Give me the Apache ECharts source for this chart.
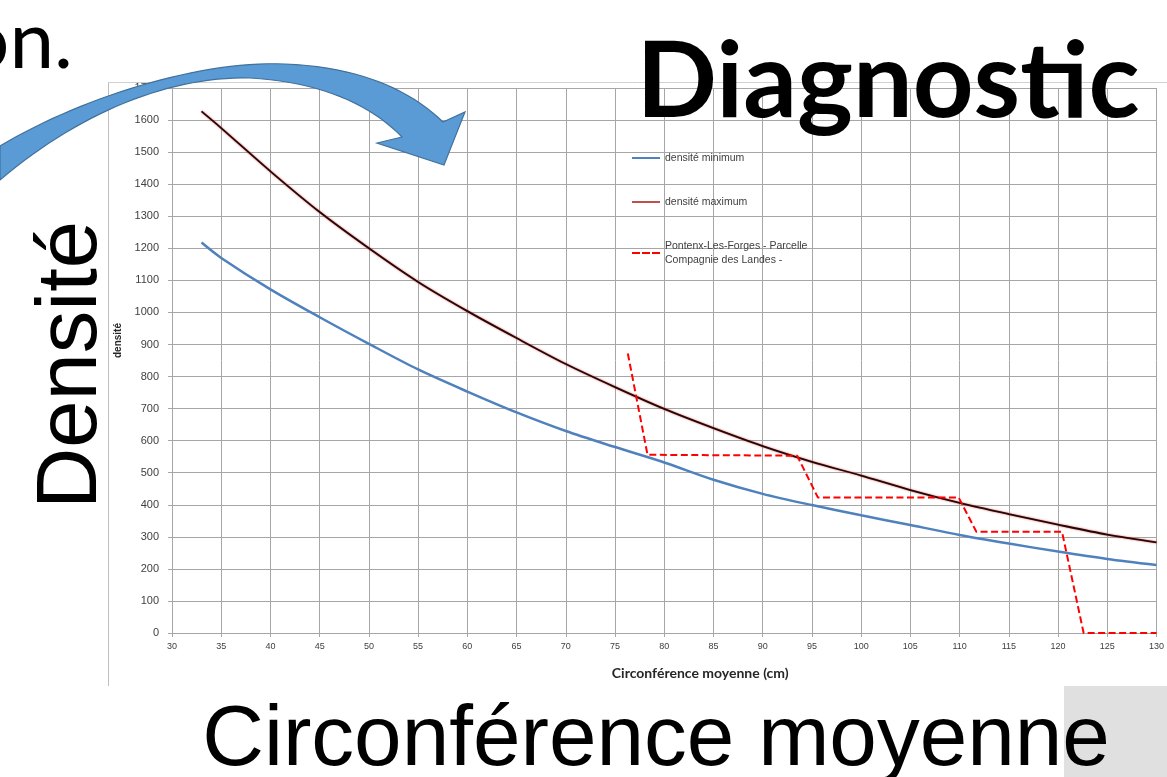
<!DOCTYPE html>
<html>
<head>
<meta charset="utf-8">
<script src="https://cdn.jsdelivr.net/npm/echarts@6/dist/echarts.min.js"></script>
<style>
html,body{margin:0;padding:0;background:#fff;}
#chart{width:1167px;height:777px;}
</style>
</head>
<body>
<div id="chart"></div>
<script>
// ---- data ----
const xTicks = [30, 130, 5];           // min, max, interval for circumference axis
const yTicks = [0, 1700, 100];         // min, max, interval for density axis
const circMin = [33, 35, 40, 45, 50, 55, 60, 65, 70, 75, 80, 85, 90, 95, 100, 105, 110, 115, 120, 125, 130];
const densMin = [1218, 1170, 1072, 985, 902, 822, 753, 688, 630, 580, 532, 478, 434, 399, 367, 337, 306, 279, 254, 231, 212];
const circMax = [33, 35, 40, 45, 50, 55, 60, 65, 70, 75, 80, 85, 90, 95, 100, 105, 110, 115, 120, 125, 130];
const densMax = [1627, 1575, 1440, 1313, 1200, 1095, 1004, 920, 839, 767, 699, 639, 583, 534, 491, 446, 406, 371, 338, 307, 283];
const circParcelle = [76.3, 78.3, 93.5, 95.6, 109.9, 111.7, 120.4, 122.6, 130];
const densParcelle = [872, 556, 553, 423, 423, 316, 316, 0, 0];
const seriesNames = ['densité minimum', 'densité maximum', 'Pontenx-Les-Forges - Parcelle\nCompagnie des Landes -'];
const xAxisName = 'Circonférence moyenne (cm)';
const yAxisName = 'densité';
const slideTexts = { title: 'Diagnostic', prev: 'on.', left: 'Densité', bottom: 'Circonférence moyenne' };

const zip = (xs, ys) => xs.map((x, i) => [x, ys[i]]);

// decorative curved arrow outline (slide shape), sampled from cubic curves
function cubic(p0, p1, p2, p3, n) {
  const pts = [];
  for (let i = 0; i <= n; i++) {
    const t = i / n, u = 1 - t;
    pts.push([
      u*u*u*p0[0] + 3*u*u*t*p1[0] + 3*u*t*t*p2[0] + t*t*t*p3[0],
      u*u*u*p0[1] + 3*u*u*t*p1[1] + 3*u*t*t*p2[1] + t*t*t*p3[1]
    ]);
  }
  return pts;
}
const arrowPts = [].concat(
  cubic([0,146],[80,98],[200,60],[285,64],30),
  cubic([285,64],[360,67],[410,90],[443,122],20),
  [[465,112],[444,165],[377,143],[402,137]],
  cubic([402,137],[370,104],[320,82],[250,78],20),
  cubic([250,78],[170,76],[80,112],[0,180],30)
);

const chart = echarts.init(document.getElementById('chart'));
const gridColor = '#a6a6a6';
chart.setOption({
  backgroundColor: '#ffffff',
  animation: false,
  grid: { left: 172, right: 9, top: 88, bottom: 144, containLabel: false },
  xAxis: {
    type: 'value', min: xTicks[0], max: xTicks[1], interval: xTicks[2],
    name: xAxisName, nameLocation: 'middle', nameGap: 33,
    nameTextStyle: { fontFamily: 'Lato', fontWeight: 'bold', fontSize: 14, color: '#262626', padding: [0, 0, 0, 72] },
    axisLine: { show: true, lineStyle: { color: gridColor, width: 1 } },
    axisTick: { show: true, length: 4, lineStyle: { color: gridColor } },
    axisLabel: { fontFamily: 'Liberation Sans', fontSize: 9, color: '#404040', margin: 9 },
    splitLine: { show: true, lineStyle: { color: gridColor, width: 1 } }
  },
  yAxis: {
    type: 'value', min: yTicks[0], max: yTicks[1], interval: yTicks[2],
    name: yAxisName, nameLocation: 'middle', nameGap: 42, nameRotate: 90,
    nameTextStyle: { fontFamily: 'Liberation Sans', fontWeight: 'bold', fontSize: 10, color: '#262626', padding: [0, 0, 0, 40] },
    axisLine: { show: true, lineStyle: { color: gridColor, width: 1 } },
    axisTick: { show: true, inside: false, length: 4, lineStyle: { color: gridColor } },
    axisLabel: { fontFamily: 'Liberation Sans', fontSize: 11, color: '#404040', margin: 13, formatter: (v) => String(v) },
    splitLine: { show: true, lineStyle: { color: gridColor, width: 1 } }
  },
  legend: {
    orient: 'vertical', left: 632, top: 151, padding: 0, itemWidth: 28, itemHeight: 12, itemGap: 30,
    textStyle: { fontFamily: 'Liberation Sans', fontSize: 10.5, color: '#404040', lineHeight: 14 },
    data: [
      { name: seriesNames[0], icon: 'path://M0,0H28V2H0Z' },
      { name: seriesNames[1], icon: 'path://M0,0H28V2H0Z', itemStyle: { color: '#c0504d' } },
      { name: seriesNames[2], icon: 'path://M0,0H8V2H0ZM10,0H18V2H10ZM20,0H28V2H20Z' }
    ]
  },
  series: [
    {
      name: seriesNames[0], type: 'line', data: zip(circMin, densMin), smooth: 0.3,
      showSymbol: false, symbol: 'none',
      lineStyle: { color: '#4f81bd', width: 2.5 }, itemStyle: { color: '#4f81bd' }
    },
    {
      name: seriesNames[1], type: 'line', data: zip(circMax, densMax), smooth: 0.3,
      showSymbol: false, symbol: 'none',
      lineStyle: { color: '#2a0505', width: 1.8, shadowColor: 'rgba(200,70,70,0.9)', shadowBlur: 2 },
      itemStyle: { color: '#c0504d' }
    },
    {
      name: seriesNames[2], type: 'line', data: zip(circParcelle, densParcelle),
      showSymbol: false, symbol: 'none',
      lineStyle: { color: '#ff0000', width: 2, type: [7, 3.5] }, itemStyle: { color: '#ff0000' }
    }
  ],
  graphic: [
    { type: 'line', shape: { x1: 108.5, y1: 82, x2: 108.5, y2: 686 }, style: { stroke: '#bfbfbf', lineWidth: 1 }, z: 1 },
    { type: 'line', shape: { x1: 108, y1: 82.5, x2: 1167, y2: 82.5 }, style: { stroke: '#d0d0d0', lineWidth: 1 }, z: 1 },
    { type: 'rect', shape: { x: 1064, y: 686, width: 103, height: 91 }, style: { fill: '#e0e0e0' }, z: 0 },
    { type: 'text', x: 73, y: 42, style: { text: slideTexts.prev, font: '80px Lato', fill: '#000', align: 'right', verticalAlign: 'middle' }, z: 50 },
    { type: 'text', x: 888, y: 83, style: { text: slideTexts.title, font: 'bold 106px Lato', fill: '#000', align: 'center', verticalAlign: 'middle' }, z: 50 },
    { type: 'text', x: 73, y: 365, rotation: Math.PI / 2, style: { text: slideTexts.left, font: '85px "Liberation Sans"', fill: '#000', align: 'center', verticalAlign: 'middle' }, z: 50 },
    { type: 'text', x: 656, y: 741, style: { text: slideTexts.bottom, font: '85.5px "Liberation Sans"', fill: '#000', align: 'center', verticalAlign: 'middle' }, z: 50 },
    { type: 'polygon', z: 60, shape: { points: arrowPts }, style: { fill: '#5b9bd5', stroke: '#41719c', lineWidth: 1.2 } }
  ]
});
</script>
</body>
</html>
